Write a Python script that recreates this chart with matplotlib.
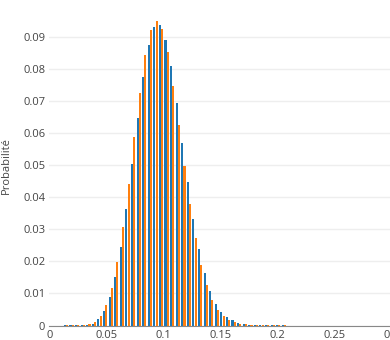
import numpy as np
import matplotlib
matplotlib.use('Agg')
import matplotlib.pyplot as plt

plt.rcParams['font.family'] = ['Open Sans', 'DejaVu Sans']

# positions des barres (pas ~0.0049)
k = np.arange(3, 43)
pas = 0.0049
x = k * pas

bleu = [0.0001, 0.0001, 0.0001, 0.0002, 0.0003, 0.0006, 0.0020, 0.0044, 0.0088, 0.0152,
        0.0246, 0.0364, 0.0503, 0.0645, 0.0774, 0.0874, 0.0929, 0.0935, 0.0890, 0.0807,
        0.0694, 0.0570, 0.0446, 0.0333, 0.0239, 0.0164, 0.0109, 0.0067, 0.0042, 0.0025,
        0.0016, 0.0008, 0.0005, 0.0003, 0.0002, 0.0001, 0.0001, 0.0001, 0.0001, 0.0001]
orange = [0.0001, 0.0001, 0.0001, 0.0002, 0.0004, 0.0010, 0.0030, 0.0063, 0.0117, 0.0197,
          0.0307, 0.0441, 0.0586, 0.0725, 0.0842, 0.0921, 0.0947, 0.0924, 0.0853, 0.0747,
          0.0624, 0.0498, 0.0378, 0.0274, 0.0190, 0.0125, 0.0080, 0.0049, 0.0031, 0.0018,
          0.0011, 0.0006, 0.0004, 0.0002, 0.0001, 0.0001, 0.0001, 0.0001, 0.0001, 0.0001]

yticks = [0, 0.01, 0.02, 0.03, 0.04, 0.05, 0.06, 0.07, 0.08, 0.09]
ylabels = ['0', '0.01', '0.02', '0.03', '0.04', '0.05', '0.06', '0.07', '0.08', '0.09']
xticks = [0, 0.05, 0.1, 0.15, 0.2, 0.25, 0.3]
xlabels = ['0', '0.05', '0.1', '0.15', '0.2', '0.25', '0.3']

fig = plt.figure(figsize=(3.9, 3.4), dpi=100)
ax = fig.add_axes([49.3 / 390, 14.5 / 340, 342 / 390, 319.1 / 340])

larg = pas * 0.4
ax.bar(x - larg / 2, bleu, width=larg * 0.92, color='#1f77b4', zorder=2)
ax.bar(x + larg / 2, orange, width=larg * 0.92, color='#ff7f0e', zorder=2)

ax.set_xlim(0, 0.3)
ax.set_ylim(0, 0.0994)
ax.set_yticks(yticks)
ax.set_yticklabels(ylabels)
ax.set_xticks(xticks)
ax.set_xticklabels(xlabels)
ax.tick_params(length=0, labelsize=8, colors='#444444', pad=3)
ax.grid(axis='y', color='#eeeeee', linewidth=1, zorder=0)
for s in ['top', 'right', 'left']:
    ax.spines[s].set_visible(False)
ax.spines['bottom'].set_color('#888888')
ax.spines['bottom'].set_zorder(3)
ax.set_ylabel('Probabilité', fontsize=8, color='#444444', labelpad=8)

plt.savefig('out.png', dpi=100)
